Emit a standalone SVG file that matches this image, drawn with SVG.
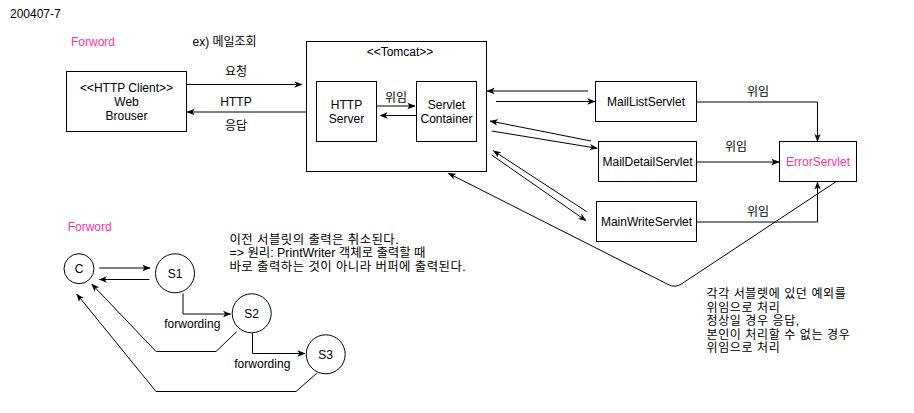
<svg xmlns="http://www.w3.org/2000/svg" width="914" height="413" viewBox="0 0 914 413">
<defs>
<marker id="arr" markerUnits="userSpaceOnUse" markerWidth="8" markerHeight="8" viewBox="0 0 10 10" refX="9.5" refY="5" orient="auto">
<path d="M0,1 L10,5 L0,9 L2.5,5 z" fill="#000"/>
</marker>
<style>
text{font-family:"Liberation Sans","Noto Sans CJK KR",sans-serif;font-size:12px;fill:#000}
.c{text-anchor:middle}
.pink{fill:#FF3399}
.box{fill:#fff;stroke:#000;stroke-width:1}
.frame{fill:none;stroke:#000;stroke-width:1}
.ln{fill:none;stroke:#000;stroke-width:1}
.a{marker-end:url(#arr)}
.n1{font-size:12.4px;letter-spacing:0.45px}
.n1b{font-size:12.4px}
.n2{font-size:12px;letter-spacing:0.6px}
</style>
</defs>
<rect width="914" height="413" fill="#fff"/>
<text x="10" y="18">200407-7</text>
<text x="71" y="46" class="pink">Forword</text>
<text x="192.5" y="46">ex) 메일조회</text>

<g id="tomcat">
<rect class="frame" x="306.5" y="41.5" width="180" height="130"/>
<text x="400" y="56" class="c">&lt;&lt;Tomcat&gt;&gt;</text>
</g>

<g id="connectors">
<path class="ln a" d="M186.7,84.5 L302,84.5"/>
<path class="ln a" d="M306,112 L187,112"/>
<path class="ln a" d="M376,106 L415,106"/>
<path class="ln a" d="M416,115.5 L380,115.5"/>
<path class="ln a" d="M588,91 L487,91"/>
<path class="ln a" d="M496,101.5 L595,101.5"/>
<path class="ln a" d="M591,141 L490,121"/>
<path class="ln a" d="M491.7,131 L597.3,148.3"/>
<path class="ln a" d="M586.7,211.7 L493.3,150.7"/>
<path class="ln a" d="M491.7,155 L586,220.7"/>
<path class="ln a" d="M697,102 H817.5 V141.5"/>
<path class="ln a" d="M697,162 H779"/>
<path class="ln a" d="M697,222 H817.5 V182"/>
<path class="ln a" d="M836,181.7 L682,283.6 Q675,288.5 668,284.4 L448.3,173.3"/>
<path class="ln a" d="M99.3,268 L150,268"/>
<path class="ln a" d="M149.3,279.5 L99.3,279.5"/>
<path class="ln a" d="M183,293.3 V314 H230.7"/>
<path class="ln a" d="M252.5,333.3 V353.5 H305"/>
<path class="ln a" d="M236.7,331.7 L216,351.5 H156 L91.7,284"/>
<path class="ln a" d="M316.7,373.3 L296,391.5 H156 L76.7,294"/>
<text x="236" y="75.5" class="c">요청</text>
<text x="236" y="105.5" class="c">HTTP</text>
<text x="236" y="130" class="c">응답</text>
<text x="396" y="101.5" class="c">위임</text>
<text x="758" y="96" class="c">위임</text>
<text x="736" y="150.5" class="c">위임</text>
<text x="758" y="216" class="c">위임</text>
<text x="192.3" y="328" class="c">forwording</text>
<text x="262.3" y="368" class="c">forwording</text>
</g>

<g id="client">
<rect class="box" x="66.5" y="71.5" width="120" height="60"/>
<text x="126.5" y="92" class="c">&lt;&lt;HTTP Client&gt;&gt;</text>
<text x="126.5" y="105.5" class="c">Web</text>
<text x="126.5" y="120" class="c">Brouser</text>
</g>
<g id="httpserver">
<rect class="box" x="316.5" y="81.5" width="60" height="60"/>
<text x="346.5" y="108.5" class="c">HTTP</text>
<text x="346.5" y="122.5" class="c">Server</text>
</g>
<g id="servletcontainer">
<rect class="box" x="416.5" y="81.5" width="60" height="60"/>
<text x="446.5" y="108.5" class="c">Servlet</text>
<text x="446.5" y="122.5" class="c">Container</text>
</g>
<g id="maillist">
<rect class="box" x="595.5" y="81.5" width="101" height="40"/>
<text x="646" y="106" class="c">MailListServlet</text>
</g>
<g id="maildetail">
<rect class="box" x="598.5" y="141.5" width="98" height="40"/>
<text x="647.5" y="166" class="c">MailDetailServlet</text>
</g>
<g id="mainwrite">
<rect class="box" x="596.5" y="201.5" width="100" height="40"/>
<text x="646.5" y="226" class="c">MainWriteServlet</text>
</g>
<g id="error">
<rect class="box" x="779.5" y="141.5" width="77" height="40"/>
<text x="818" y="166" class="c pink">ErrorServlet</text>
</g>

<text x="67.7" y="231" class="pink">Forword</text>
<g id="note1">
<text x="229.5" y="243.5" class="n1">이전 서블릿의 출력은 취소된다.</text>
<text x="229.5" y="257" class="n1b">=&gt; 원리: PrintWriter 객체로 출력할 때</text>
<text x="229.5" y="270.5" class="n1">바로 출력하는 것이 아니라 버퍼에 출력된다.</text>
</g>
<g id="nodeC">
<circle class="box" cx="79" cy="268.7" r="15"/>
<text x="79" y="273" class="c">C</text>
</g>
<g id="nodeS1">
<circle class="box" cx="175" cy="273.3" r="19.5"/>
<text x="175" y="277.5" class="c">S1</text>
</g>
<g id="nodeS2">
<circle class="box" cx="251.7" cy="313.3" r="19.5"/>
<text x="251.7" y="317.5" class="c">S2</text>
</g>
<g id="nodeS3">
<circle class="box" cx="325.7" cy="354.3" r="19.5"/>
<text x="325.7" y="358.5" class="c">S3</text>
</g>
<g id="note2">
<text x="706.5" y="298" class="n2">각각 서블렛에 있던 예외를</text>
<text x="706.5" y="311.5" class="n2">위임으로 처리</text>
<text x="706.5" y="325" class="n2">정상일 경우 응답,</text>
<text x="706.5" y="338.5" class="n2">본인이 처리할 수 없는 경우</text>
<text x="706.5" y="352" class="n2">위임으로 처리</text>
</g>
</svg>
